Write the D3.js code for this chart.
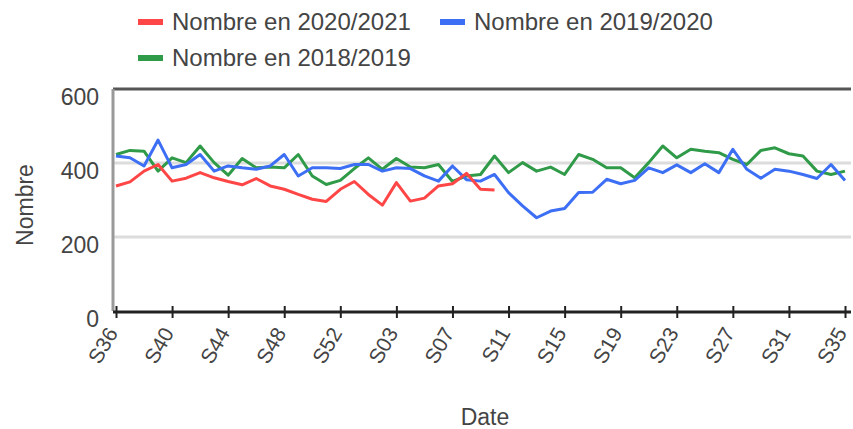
<!DOCTYPE html>
<html>
<head>
<meta charset="utf-8">
<script src="https://cdn.jsdelivr.net/npm/d3@7"></script>
<style>
  body { margin: 0; background: #fff; }
  svg { display: block; font-family: "Liberation Sans", Arial, sans-serif; }
</style>
</head>
<body>
<svg id="chart" width="853" height="429"></svg>
<script>
// weeks S36 .. S53, S01 .. S35
const weeks = [
  "S36","S37","S38","S39","S40","S41","S42","S43","S44","S45","S46","S47","S48","S49","S50","S51","S52","S53",
  "S01","S02","S03","S04","S05","S06","S07","S08","S09","S10","S11","S12","S13","S14","S15","S16","S17","S18",
  "S19","S20","S21","S22","S23","S24","S25","S26","S27","S28","S29","S30","S31","S32","S33","S34","S35"
];
const tickWeeks = ["S36","S40","S44","S48","S52","S03","S07","S11","S15","S19","S23","S27","S31","S35"];
const yTicks = [0, 200, 400, 600];

const nombre2021 = [338, 349, 378, 396, 351, 359, 374, 360, 350, 341, 358, 338, 329, 315, 302, 296, 329, 350,
  315, 286, 347, 297, 305, 338, 344, 372, 329, 327];
const nombre2020 = [419, 414, 392, 462, 387, 396, 423, 378, 392, 387, 383, 392, 423, 365, 387, 387, 385, 396,
  396, 378, 387, 385, 365, 351, 392, 355, 351, 369, 320, 284, 252, 270, 277, 320, 321, 356,
  344, 353, 387, 374, 395, 374, 398, 374, 437, 383, 359, 383, 378, 369, 358, 396, 353];
const nombre2019 = [423, 434, 432, 378, 414, 401, 446, 401, 367, 412, 387, 389, 387, 423, 365, 342, 353, 385,
  414, 383, 412, 389, 387, 396, 350, 365, 369, 419, 374, 401, 378, 389, 369, 423, 410, 387,
  387, 360, 401, 446, 414, 437, 432, 428, 410, 396, 434, 441, 425, 419, 378, 369, 378];

const series = [
  { name: "Nombre en 2020/2021", values: nombre2021, color: "#ff4646" },
  { name: "Nombre en 2019/2020", values: nombre2020, color: "#3d6ff5" },
  { name: "Nombre en 2018/2019", values: nombre2019, color: "#2f9a47" }
];

const svg = d3.select("#chart");
const plotLeft = 113, plotRight = 851, plotTop = 89, plotBottom = 311;
const textColor = "#444";
const fs = 23;

const x = d3.scalePoint().domain(weeks).range([116, 845]);
const y = d3.scaleLinear().domain([0, 600]).range([plotBottom, plotTop]);

// gridlines
svg.append("g")
  .selectAll("line")
  .data([200, 400])
  .join("line")
  .attr("x1", plotLeft).attr("x2", plotRight)
  .attr("y1", d => y(d)).attr("y2", d => y(d))
  .attr("stroke", "#dcdcdc")
  .attr("stroke-width", 3);

// frame: top and left
svg.append("line")
  .attr("x1", plotLeft).attr("x2", plotRight).attr("y1", plotTop).attr("y2", plotTop)
  .attr("stroke", "#555").attr("stroke-width", 3);
svg.append("line")
  .attr("x1", plotLeft).attr("x2", plotLeft).attr("y1", plotTop).attr("y2", plotBottom)
  .attr("stroke", "#999").attr("stroke-width", 3);

// y labels
svg.append("g")
  .selectAll("text")
  .data(yTicks)
  .join("text")
  .attr("x", 99)
  .attr("y", d => y(d) + 8)
  .attr("dy", "0.35em")
  .attr("text-anchor", "end")
  .attr("fill", textColor)
  .style("font-size", fs + "px")
  .text(d => d);

// lines
const line = d3.line()
  .x((d, i) => x(weeks[i]))
  .y(d => y(d));

svg.append("g")
  .selectAll("path")
  .data(series.slice().reverse())
  .join("path")
  .attr("d", d => line(d.values))
  .attr("fill", "none")
  .attr("stroke", d => d.color)
  .attr("stroke-width", 3)
  .attr("stroke-linejoin", "round");

// x axis
const xAxis = svg.append("g")
  .attr("transform", `translate(0,${plotBottom + 1})`)
  .call(d3.axisBottom(x).tickValues(tickWeeks).tickSize(0).tickPadding(0));
xAxis.select(".domain").remove();
xAxis.append("line")
  .attr("x1", plotLeft).attr("x2", plotRight)
  .attr("stroke", "#222").attr("stroke-width", 3);
xAxis.selectAll(".tick").append("line")
  .attr("y1", -6).attr("y2", 6)
  .attr("stroke", "#222").attr("stroke-width", 2);
xAxis.selectAll(".tick text")
  .attr("fill", textColor)
  .style("font-size", "21px")
  .style("font-family", "'Liberation Sans', Arial, sans-serif")
  .attr("text-anchor", "end")
  .attr("dy", null)
  .attr("y", 0)
  .attr("transform", "translate(2,21) rotate(-60)");

// axis titles
svg.append("text")
  .attr("x", 485).attr("y", 425)
  .attr("text-anchor", "middle")
  .attr("fill", textColor)
  .style("font-size", fs + "px")
  .text("Date");
svg.append("text")
  .attr("transform", "translate(33,205) rotate(-90)")
  .attr("text-anchor", "middle")
  .attr("fill", textColor)
  .style("font-size", fs + "px")
  .text("Nombre");

// legend
const legendPos = [[138, 22], [440, 22], [138, 58]];
const legend = svg.append("g")
  .selectAll("g")
  .data(series)
  .join("g")
  .attr("transform", (d, i) => `translate(${legendPos[i][0]},${legendPos[i][1]})`);
legend.append("line")
  .attr("x1", 0).attr("x2", 25)
  .attr("stroke", d => d.color)
  .attr("stroke-width", 6);
legend.append("text")
  .attr("x", 34)
  .attr("dy", "0.35em")
  .attr("fill", textColor)
  .style("font-size", "24px")
  .text(d => d.name);
</script>
</body>
</html>
